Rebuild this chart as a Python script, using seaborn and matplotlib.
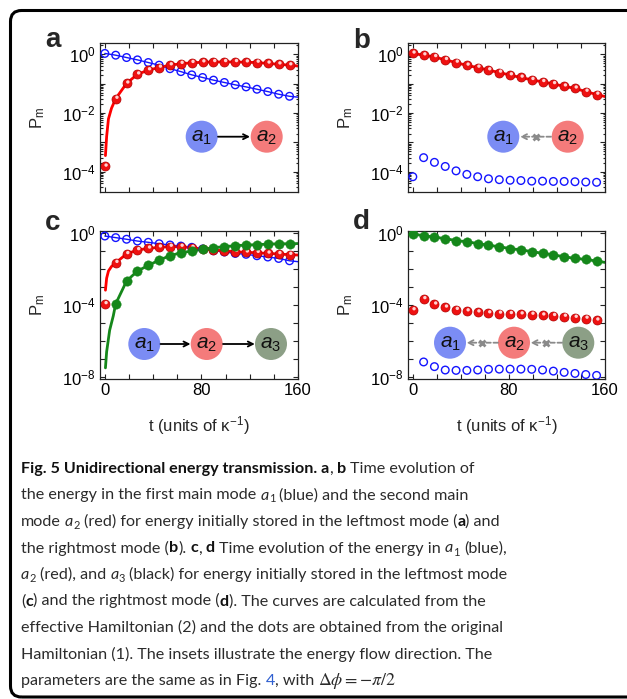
import numpy as np
import pandas as pd
import matplotlib
matplotlib.use("Agg")
import matplotlib.pyplot as plt
import seaborn as sns
from matplotlib import ticker, transforms, font_manager
from matplotlib.patches import Ellipse, FancyBboxPatch, FancyArrowPatch
from matplotlib.lines import Line2D

# sample times of the dots (units of 1/kappa)
t_dots = [0, 9, 18, 27, 36, 45, 54, 63, 72, 81, 90, 99, 108, 117, 126, 135, 144, 153]

# all values below are log10(P_m)
# panel a
a_blue = [0.03, -0.03, -0.11, -0.19, -0.28, -0.37, -0.49, -0.59, -0.70, -0.79,
          -0.88, -0.96, -1.04, -1.11, -1.19, -1.27, -1.36, -1.43]
a_red = [-3.82, -1.51, -0.99, -0.68, -0.54, -0.45, -0.37, -0.32, -0.29, -0.27,
         -0.26, -0.26, -0.26, -0.27, -0.28, -0.31, -0.34, -0.37]
# panel b
b_red = [0.03, -0.03, -0.09, -0.19, -0.28, -0.38, -0.45, -0.54, -0.62, -0.71,
         -0.79, -0.87, -0.94, -1.01, -1.09, -1.16, -1.27, -1.37]
b_blue = [-4.17, -3.52, -3.68, -3.82, -3.97, -4.09, -4.17, -4.24, -4.27, -4.29,
          -4.30, -4.32, -4.32, -4.33, -4.33, -4.34, -4.35, -4.36]
# panel c
c_blue = [-0.15, -0.24, -0.33, -0.43, -0.50, -0.58, -0.65, -0.71, -0.78, -0.87,
          -0.97, -1.04, -1.12, -1.17, -1.25, -1.32, -1.40, -1.53]
c_red = [-3.94, -1.64, -1.15, -0.93, -0.84, -0.78, -0.74, -0.74, -0.80, -0.87,
         -0.93, -0.97, -1.02, -1.06, -1.08, -1.12, -1.15, -1.19]
c_green = [-3.93, -2.66, -2.10, -1.79, -1.49, -1.25, -1.08, -0.99, -0.89, -0.80,
           -0.74, -0.69, -0.65, -0.63, -0.60, -0.58, -0.58]          # from t = 9
# panel d
d_green = [-0.04, -0.13, -0.21, -0.30, -0.40, -0.47, -0.57, -0.66, -0.75, -0.85,
           -0.92, -1.02, -1.11, -1.21, -1.30, -1.40, -1.45, -1.55]
d_red = [-4.28, -3.66, -3.96, -4.13, -4.26, -4.34, -4.40, -4.45, -4.47, -4.49,
         -4.51, -4.53, -4.57, -4.60, -4.64, -4.70, -4.75, -4.85]
d_blue = [-7.17, -7.43, -7.62, -7.64, -7.64, -7.62, -7.58, -7.57, -7.57, -7.57,
          -7.58, -7.62, -7.68, -7.75, -7.81, -7.87, -7.92]          # from t = 9

# effective-Hamiltonian curves: early part and value at the right edge
a_red_head_t, a_red_head = [0.5, 1.5, 3, 5.5], [-3.45, -2.80, -2.20, -1.84]
c_red_head_t, c_red_head = [0.5, 1.5, 3, 5.5], [-3.17, -2.50, -2.10, -1.85]
c_green_head_t, c_green_head = [0.5, 1.5, 4, 7], [-7.50, -6.60, -5.40, -4.60]
t_end = 160
a_blue_end, a_red_end = -1.46, -0.40
b_red_end = -1.44
c_blue_end, c_red_end, c_green_end = -1.58, -1.21, -0.57
d_green_end = -1.62

W, H = 627, 699
BLUE, RED, GREEN = "#1414ff", "#ee1111", "#15871a"

sns.set_theme(style="ticks")
plt.rcParams["font.family"] = ["Liberation Sans", "DejaVu Sans"]
plt.rcParams["mathtext.fontset"] = "custom"
plt.rcParams["mathtext.rm"] = "Liberation Sans"
plt.rcParams["mathtext.it"] = "Liberation Sans:italic"
plt.rcParams["mathtext.bf"] = "Liberation Sans:bold"
plt.rcParams["axes.linewidth"] = 0.9

fig = plt.figure(figsize=(W / 100, H / 100), dpi=100)
fig.patch.set_facecolor("white")


def fx(x):
    return x / W


def fy(y):
    return 1 - y / H


def px_rect(l, t, r, b):
    return [l / W, 1 - b / H, (r - l) / W, (b - t) / H]


def P(v):
    return 10 ** np.asarray(v, dtype=float)


def curve(ax, t, v, color, lw):
    sns.lineplot(x=t, y=P(v), ax=ax, color=color, lw=lw, estimator=None, sort=False, zorder=2)


def open_dots(ax, t, v):
    sns.scatterplot(x=t, y=P(v), ax=ax, s=30, facecolors="none", edgecolor=BLUE,
                    linewidth=1.0, zorder=3)


def balls(ax, t, v):
    sns.scatterplot(x=t, y=P(v), ax=ax, s=42, color=RED, edgecolor="#b00000",
                    linewidth=0.5, zorder=4)
    hl = transforms.offset_copy(ax.transData, fig=fig, x=0.9, y=1.0, units="points")
    sns.scatterplot(x=t, y=P(v), ax=ax, s=6, color="#ffd2d2", edgecolor="none",
                    linewidth=0, zorder=5, transform=hl)


def green_dots(ax, t, v):
    sns.scatterplot(x=t, y=P(v), ax=ax, s=46, color=GREEN, edgecolor=GREEN,
                    linewidth=0.3, zorder=6)


def log_fmt(shown):
    def f(v, pos):
        e = int(round(np.log10(v)))
        return r"$\mathdefault{10^{%d}}$" % e if e in shown else ""
    return ticker.FuncFormatter(f)


def style(ax, ylim, shown, minor, xlabels):
    ax.set_yscale("log")
    ax.set_xlim(-4, 160)
    ax.set_ylim(*ylim)
    ax.xaxis.set_major_locator(ticker.MultipleLocator(20))
    ax.xaxis.set_major_formatter(
        ticker.FuncFormatter(lambda v, p: f"{v:.0f}" if round(v) in (0, 80, 160) else ""))
    ax.yaxis.set_major_locator(ticker.LogLocator(base=10, numticks=30))
    ax.yaxis.set_major_formatter(log_fmt(shown))
    if minor:
        ax.yaxis.set_minor_locator(ticker.LogLocator(base=10, subs=np.arange(2, 10), numticks=30))
    else:
        ax.yaxis.set_minor_locator(ticker.NullLocator())
    ax.tick_params(which="both", direction="in", top=True, right=True, labelsize=12,
                   width=0.8, colors="#222222", labelcolor="black", pad=3)
    ax.tick_params(which="major", length=3.5)
    ax.tick_params(which="minor", length=1.8)
    ax.tick_params(axis="x", labelbottom=xlabels)
    ax.set_ylabel(r"P$_\mathrm{m}$", fontsize=12)
    ax.yaxis.set_label_coords(-0.27, 0.5)
    if xlabels:
        ax.set_xlabel(r"t (units of κ$^{\mathdefault{-1}}$)", fontsize=12)
        ax.xaxis.set_label_coords(0.5, -0.24)
    else:
        ax.set_xlabel("")
    for sp in ax.spines.values():
        sp.set_color("#222222")


ax_a = fig.add_axes(px_rect(100, 43, 298, 192))
ax_b = fig.add_axes(px_rect(408, 43, 605, 192))
ax_c = fig.add_axes(px_rect(100, 231, 298, 379))
ax_d = fig.add_axes(px_rect(408, 231, 605, 379))
for ax in (ax_a, ax_b, ax_c, ax_d):
    ax.set_yscale("log")

# panel a
curve(ax_a, t_dots + [t_end], a_blue + [a_blue_end], BLUE, 1.0)
open_dots(ax_a, t_dots, a_blue)
curve(ax_a, a_red_head_t + t_dots[1:] + [t_end], a_red_head + a_red[1:] + [a_red_end], "#ff0000", 2.0)
balls(ax_a, t_dots, a_red)
style(ax_a, (10 ** -4.69, 10 ** 0.385), (0, -2, -4), True, False)

# panel b
open_dots(ax_b, t_dots, b_blue)
curve(ax_b, t_dots + [t_end], b_red + [b_red_end], "#ff0000", 2.0)
balls(ax_b, t_dots, b_red)
style(ax_b, (10 ** -4.69, 10 ** 0.385), (0, -2, -4), True, False)

# panel c
curve(ax_c, t_dots + [t_end], c_blue + [c_blue_end], BLUE, 1.0)
open_dots(ax_c, t_dots, c_blue)
curve(ax_c, c_red_head_t + t_dots[1:] + [t_end], c_red_head + c_red[1:] + [c_red_end], "#ff0000", 2.0)
balls(ax_c, t_dots, c_red)
curve(ax_c, c_green_head_t + t_dots[1:] + [t_end], c_green_head + c_green + [c_green_end], GREEN, 2.0)
green_dots(ax_c, t_dots[1:], c_green)
style(ax_c, (10 ** -8.12, 10 ** 0.13), (0, -4, -8), False, True)

# panel d
open_dots(ax_d, t_dots[1:], d_blue)
balls(ax_d, t_dots, d_red)
curve(ax_d, t_dots + [t_end], d_green + [d_green_end], GREEN, 2.0)
green_dots(ax_d, t_dots, d_green)
style(ax_d, (10 ** -8.12, 10 ** 0.13), (0, -4, -8), False, True)

# panel letters
for lab, x, y in [("a", 45, 47), ("b", 353, 48), ("c", 45, 230), ("d", 353, 229)]:
    fig.text(fx(x), fy(y), lab, fontsize=20, weight="bold", va="baseline", ha="left")

# insets
NODE = {"1": "#7b8cf4", "2": "#f47b7b", "3": "#8c9f86"}
R = 16


def node(x, y, k):
    fig.add_artist(Ellipse((fx(x), fy(y)), 2 * R / W, 2 * R / H, transform=fig.transFigure,
                           color=NODE[k], zorder=10, lw=0))
    fig.text(fx(x), fy(y) - 0.001, r"$a_{%s}$" % k, ha="center", va="center", fontsize=15,
             color="#111111", zorder=11)


def link(x0, x1, y, blocked=False):
    col = "#8a8a8a" if blocked else "black"
    fig.add_artist(FancyArrowPatch((fx(x0), fy(y)), (fx(x1), fy(y)), transform=fig.transFigure,
                                   arrowstyle="->", mutation_scale=9, lw=1.3, color=col,
                                   linestyle=(0, (2.5, 1.5)) if blocked else "-",
                                   shrinkA=0, shrinkB=0, zorder=10))
    if blocked:
        fig.add_artist(Line2D([fx((x0 + x1) / 2)], [fy(y)], marker="x", ms=5, mew=2,
                              color=col, transform=fig.transFigure, zorder=11))


node(201.7, 136.7, "1"); node(266.7, 136.7, "2"); link(218, 250, 136.7)
node(503.3, 136.7, "1"); node(567.7, 136.7, "2"); link(551, 520, 136.7, True)
node(144.3, 344, "1"); node(206.7, 344, "2"); node(271, 344, "3")
link(160.5, 190.5, 344); link(223, 254.8, 344)
node(450, 342.7, "1"); node(514, 342.7, "2"); node(578.3, 342.7, "3")
link(562, 530.5, 342.7, True); link(498, 466.5, 342.7, True)

# frame
fig.add_artist(FancyBboxPatch((10.5, 2), 640, 686.5, boxstyle="round,pad=0,rounding_size=11",
                              transform=transforms.IdentityTransform(), fill=False, lw=2.2,
                              ec="black", zorder=20))

# caption
names = {f.name for f in font_manager.fontManager.ttflist}
cap_family = "Open Sans"
for cand in ["Liberation Sans Narrow", "Lato"]:
    if cand in names:
        cap_family = cand
        break
INK = "#2b2b2b"
renderer = fig.canvas.get_renderer()


def width(s, **kw):
    t = fig.text(0, 0, s, **kw)
    w = t.get_window_extent(renderer).width
    t.remove()
    return w


ref_line = "effective Hamiltonian (2) and the dots are obtained from the original"
cap_fs = 10 * 484 / width(ref_line, family=cap_family, fontsize=10)
space_w = width("n n", family=cap_family, fontsize=cap_fs) - width("nn", family=cap_family, fontsize=cap_fs)

caption = [
    [("Fig. 5 Unidirectional energy transmission. a", "b"), (", ", "r"), ("b", "b"), (" Time evolution of", "r")],
    [("the energy in the first main mode ", "r"), ("a", "i"), ("1", "s"), (" (blue) and the second main", "r")],
    [("mode ", "r"), ("a", "i"), ("2", "s"), (" (red) for energy initially stored in the leftmost mode (", "r"),
     ("a", "b"), (") and", "r")],
    [("the rightmost mode (", "r"), ("b", "b"), ("). ", "r"), ("c", "b"), (", ", "r"), ("d", "b"),
     (" Time evolution of the energy in ", "r"), ("a", "i"), ("1", "s"), (" (blue),", "r")],
    [("a", "i"), ("2", "s"), (" (red), and ", "r"), ("a", "i"), ("3", "s"),
     (" (black) for energy initially stored in the leftmost mode", "r")],
    [("(", "r"), ("c", "b"), (") and the rightmost mode (", "r"), ("d", "b"), ("). The curves are calculated from the", "r")],
    [(ref_line, "r")],
    [("Hamiltonian (1). The insets illustrate the energy flow direction. The", "r")],
    [("parameters are the same as in Fig. ", "r"), ("4", "l"), (", with ", "r"),
     (r"$\Delta\phi = -\pi/2$", "m")],
]
baselines = [473, 499.5, 526, 552.5, 579, 605.5, 632, 658.5, 685]

for runs, yb in zip(caption, baselines):
    x = 21
    for s, st in runs:
        kw = dict(family=cap_family, fontsize=cap_fs, color=INK, va="baseline", ha="left")
        dy = 0
        if st == "b":
            kw.update(weight="bold", color="#111111")
        elif st == "i":
            kw.update(style="italic")
        elif st == "s":
            kw.update(fontsize=cap_fs * 0.68)
            dy = 3
        elif st == "l":
            kw.update(color="#2f5fd0")
        elif st == "m":
            kw.update(family="DejaVu Serif", math_fontfamily="stix", fontsize=cap_fs * 1.1)
        lead = len(s) - len(s.lstrip(" "))
        trail = len(s) - len(s.rstrip(" "))
        core = s.strip(" ")
        x += lead * space_w
        t = fig.text(fx(x), fy(yb + dy), core, **kw)
        x += t.get_window_extent(renderer).width + trail * space_w

fig.savefig("out.png", dpi=100, facecolor="white")
